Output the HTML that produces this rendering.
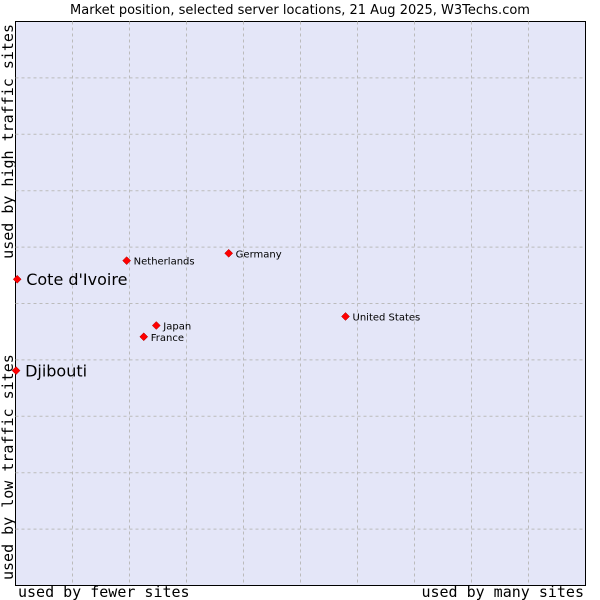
<!DOCTYPE html>
<html><head><meta charset="utf-8"><style>
body{margin:0;background:#fff;width:600px;height:600px;overflow:hidden}
svg{display:block}
</style></head><body>
<svg width="600" height="600">
<text x="300" y="14" text-anchor="middle" font-family="DejaVu Sans, sans-serif" font-size="13" fill="#000">Market position, selected server locations, 21 Aug 2025, W3Techs.com</text>
<rect x="15.5" y="21.5" width="570" height="564" fill="#e4e6f8" stroke="#000"/>
<g id="grid"></g>
<g id="pts"></g>
<text x="18" y="597" font-family="DejaVu Sans Mono, monospace" font-size="15">used by fewer sites</text>
<text x="584" y="597" text-anchor="end" font-family="DejaVu Sans Mono, monospace" font-size="15">used by many sites</text>
<text transform="translate(13,580) rotate(-90)" font-family="DejaVu Sans Mono, monospace" font-size="15">used by low traffic sites</text>
<text transform="translate(13,24) rotate(-90)" text-anchor="end" font-family="DejaVu Sans Mono, monospace" font-size="15">used by high traffic sites</text>
</svg>
<script>
const names=["Cote d'Ivoire","Djibouti","Netherlands","Germany","United States","Japan","France"];
const xVals=[0.3,0.1,19.5,37.4,57.9,24.7,22.5];
const yVals=[54.3,38.1,57.6,58.9,47.7,46.1,44.1];
const big=[true,true,false,false,false,false,false];
const L=15.5,R=585.5,T=21.5,B=585.5;
const xs=v=>L+(R-L)*v/100, ys=v=>B-(B-T)*v/100;
const ns='http://www.w3.org/2000/svg';
const g=document.getElementById('grid');
for(let i=1;i<10;i++){
 let l=document.createElementNS(ns,'line');
 
 
 l.setAttribute('x1',xs(i*10));l.setAttribute('x2',xs(i*10));l.setAttribute('y1',T);l.setAttribute('y2',B);
 l.setAttribute('stroke','#bbb');l.setAttribute('stroke-dasharray','3,3');g.appendChild(l);
 let h=document.createElementNS(ns,'line');
 
 
 h.setAttribute('y1',ys(i*10));h.setAttribute('y2',ys(i*10));h.setAttribute('x1',L);h.setAttribute('x2',R);
 h.setAttribute('stroke','#bbb');h.setAttribute('stroke-dasharray','3,3');g.appendChild(h);
}
const p=document.getElementById('pts');
names.forEach((n,i)=>{
 const x=xs(xVals[i]),y=ys(yVals[i]);
 let d=document.createElementNS(ns,'path');
 
 
 d.setAttribute('d',`M${x},${y-4}L${x+4},${y}L${x},${y+4}L${x-4},${y}Z`);
 d.setAttribute('fill','#f00');d.setAttribute('stroke','#a00');d.setAttribute('stroke-width','0.5');p.appendChild(d);
 let t=document.createElementNS(ns,'text');
 
 
 t.setAttribute('x',x+(big[i]?9:7));t.setAttribute('y',y+(big[i]?6:4));
 t.setAttribute('font-family','DejaVu Sans, sans-serif');t.setAttribute('font-size',big[i]?'16':'10');
 t.textContent=n;p.appendChild(t);
});
</script>
</body></html>
